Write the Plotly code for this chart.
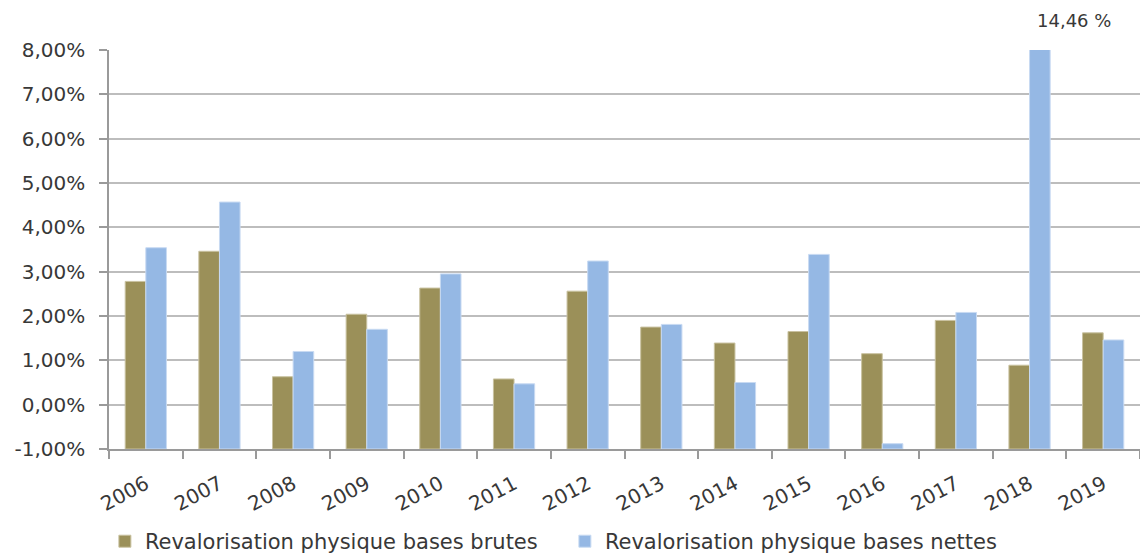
import plotly.graph_objects as go

# Annual physical revaluation rates, in percent
years = ["2006", "2007", "2008", "2009", "2010", "2011", "2012",
         "2013", "2014", "2015", "2016", "2017", "2018", "2019"]
brutes = [2.78, 3.46, 0.63, 2.04, 2.63, 0.58, 2.56,
          1.75, 1.39, 1.65, 1.15, 1.90, 0.89, 1.62]
nettes = [3.54, 4.57, 1.20, 1.70, 2.95, 0.47, 3.24,
          1.81, 0.50, 3.39, -0.88, 2.08, 14.46, 1.46]

name_brutes = "Revalorisation physique bases brutes"
name_nettes = "Revalorisation physique bases nettes"

y_min, y_max = -1, 8
y_ticks = list(range(y_min, y_max + 1))
y_ticktext = [f"{v:.2f}".replace(".", ",") + "%" for v in y_ticks]

# Bars rise from the horizontal axis, which sits at the axis minimum
baseline = y_min

FONT = "DejaVu Sans"
TEXT = "#383838"

fig = go.Figure()
fig.add_trace(go.Bar(
    x=years, y=[v - baseline for v in brutes], base=baseline,
    name=name_brutes,
    marker=dict(color="#9B9059", line=dict(color="#C9C2A0", width=1)),
))
fig.add_trace(go.Bar(
    x=years, y=[v - baseline for v in nettes], base=baseline,
    name=name_nettes,
    marker=dict(color="#95B8E4", line=dict(color="#C8DAF2", width=1)),
))

# Value label for the bar that runs past the top of the axis
# (positioned by category index so it does not stretch the axis)
peak_idx = max(range(len(nettes)), key=lambda i: nettes[i])
peak_label = f"{nettes[peak_idx]:.2f}".replace(".", ",") + " %"
fig.add_annotation(
    x=peak_idx, y=y_max, xshift=44, yshift=17,
    text=peak_label, showarrow=False, yanchor="bottom",
    font=dict(family=FONT, size=18, color=TEXT),
)

fig.update_layout(
    width=1140, height=559,
    margin=dict(l=109, r=0, t=50, b=110, autoexpand=False),
    paper_bgcolor="white", plot_bgcolor="white",
    barmode="group", bargap=0.44, bargroupgap=0,
    showlegend=True,
    legend=dict(
        orientation="h", x=-0.004, xanchor="left", y=-0.232, yanchor="middle",
        font=dict(family=FONT, size=21, color=TEXT),
        entrywidth=415, entrywidthmode="pixels",
    ),
    font=dict(family=FONT, color=TEXT),
)

fig.update_xaxes(
    type="category",
    range=[-0.5, len(years) - 0.5],
    tickangle=-28,
    tickfont=dict(family=FONT, size=20, color=TEXT),
    showline=True, linecolor="#9A9A9A", linewidth=1.5,
    ticks="outside", ticklen=8, tickcolor="#9A9A9A", tickwidth=1.5,
    tickson="boundaries",
    ticklabelstandoff=14,
    showgrid=False,
)
fig.update_yaxes(
    range=[y_min, y_max],
    tickvals=y_ticks, ticktext=y_ticktext,
    tickfont=dict(family=FONT, size=20, color=TEXT),
    showline=True, linecolor="#9A9A9A", linewidth=1.5,
    ticks="outside", ticklen=8, tickcolor="#9A9A9A", tickwidth=1.5,
    ticklabelstandoff=10,
    showgrid=True, gridcolor="#BDBDBD", gridwidth=1.5,
    zeroline=False,
)

fig.write_html("out.html")
